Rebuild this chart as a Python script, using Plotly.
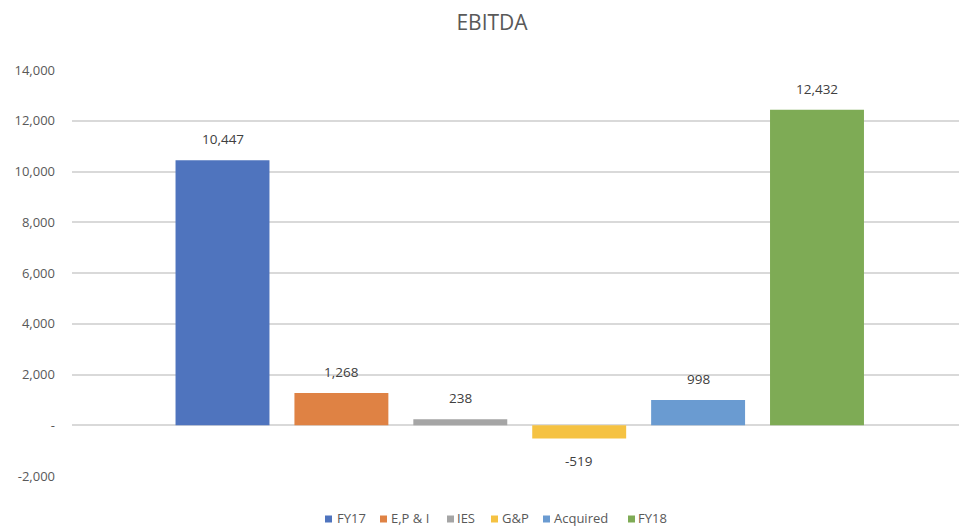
import plotly.graph_objects as go

series = ["FY17", "E,P & I", "IES", "G&P", "Acquired", "FY18"]
values = [10447, 1268, 238, -519, 998, 12432]
colors = ["#4F74BE", "#DF8244", "#A5A5A5", "#F5C242", "#6A9BD1", "#7EAB55"]
tick_vals = [-2000, 0, 2000, 4000, 6000, 8000, 10000, 12000, 14000]
tick_text = ["-2,000", "-", "2,000", "4,000", "6,000", "8,000", "10,000", "12,000", "14,000"]

FONT = "Open Sans, sans-serif"
W, H = 959, 526
L, R, T, B = 72, 0, 70, 50
PW, PH = W - L - R, H - T - B

def px(x):
    return (x - L) / PW

def py(y):
    return (H - B - y) / PH

fig = go.Figure()
fig.add_trace(go.Bar(
    x=series, y=values, marker=dict(color=colors, line=dict(width=0)),
    showlegend=False, hoverinfo="x+y",
))

annotations = []
for name, v in zip(series, values):
    annotations.append(dict(
        x=name, y=v, xref="x", yref="y", text=f"{v:,}", showarrow=False,
        yanchor="middle", yshift=21 if v >= 0 else -23,
        font=dict(family=FONT, size=13.5, color="#404040"),
    ))

# legend (manual, to match the compact Excel-style spacing)
leg_marker_x = [325, 380, 447, 491, 543, 628]
leg_text_x = [336, 390, 456, 501, 553, 637]
leg_y = 518
shapes = []
for name, c, mx, tx in zip(series, colors, leg_marker_x, leg_text_x):
    shapes.append(dict(type="rect", xref="paper", yref="paper",
                       x0=px(mx), x1=px(mx + 7), y0=py(leg_y + 4.5), y1=py(leg_y - 2.5),
                       fillcolor=c, line=dict(width=0)))
    annotations.append(dict(x=px(tx), y=py(leg_y), xref="paper", yref="paper",
                            xanchor="left", yanchor="middle", text=name, showarrow=False,
                            borderpad=0,
                            font=dict(family=FONT, size=13, color="#595959")))

fig.update_layout(
    width=W, height=H,
    margin=dict(l=L, r=R, t=T, b=B, autoexpand=False),
    paper_bgcolor="white", plot_bgcolor="white",
    bargap=0.21,
    title=dict(text="EBITDA", x=492 / W, xanchor="center", y=1 - 23 / H, yanchor="middle",
               font=dict(family=FONT, size=21, color="#595959")),
    showlegend=False,
    annotations=annotations, shapes=shapes,
    font=dict(family=FONT),
)
fig.update_xaxes(showticklabels=False, showgrid=False, zeroline=False, showline=False,
                 automargin=False, range=[-(222.5 - L) / 118.9, -(222.5 - L) / 118.9 + PW / 118.9])
fig.update_yaxes(range=[-2000, 14000], tickvals=tick_vals, ticktext=tick_text,
                 automargin=False,
                 showgrid=True, gridcolor="#D9D9D9", gridwidth=1.5,
                 zeroline=True, zerolinecolor="#D9D9D9", zerolinewidth=1.5,
                 ticks="", ticklabelstandoff=16,
                 tickfont=dict(family=FONT, size=13, color="#595959"))

fig.write_html(
    "out.html",
    config={"displayModeBar": False},
    post_script="document.body.style.margin='0';document.body.style.overflow='hidden';",
)
